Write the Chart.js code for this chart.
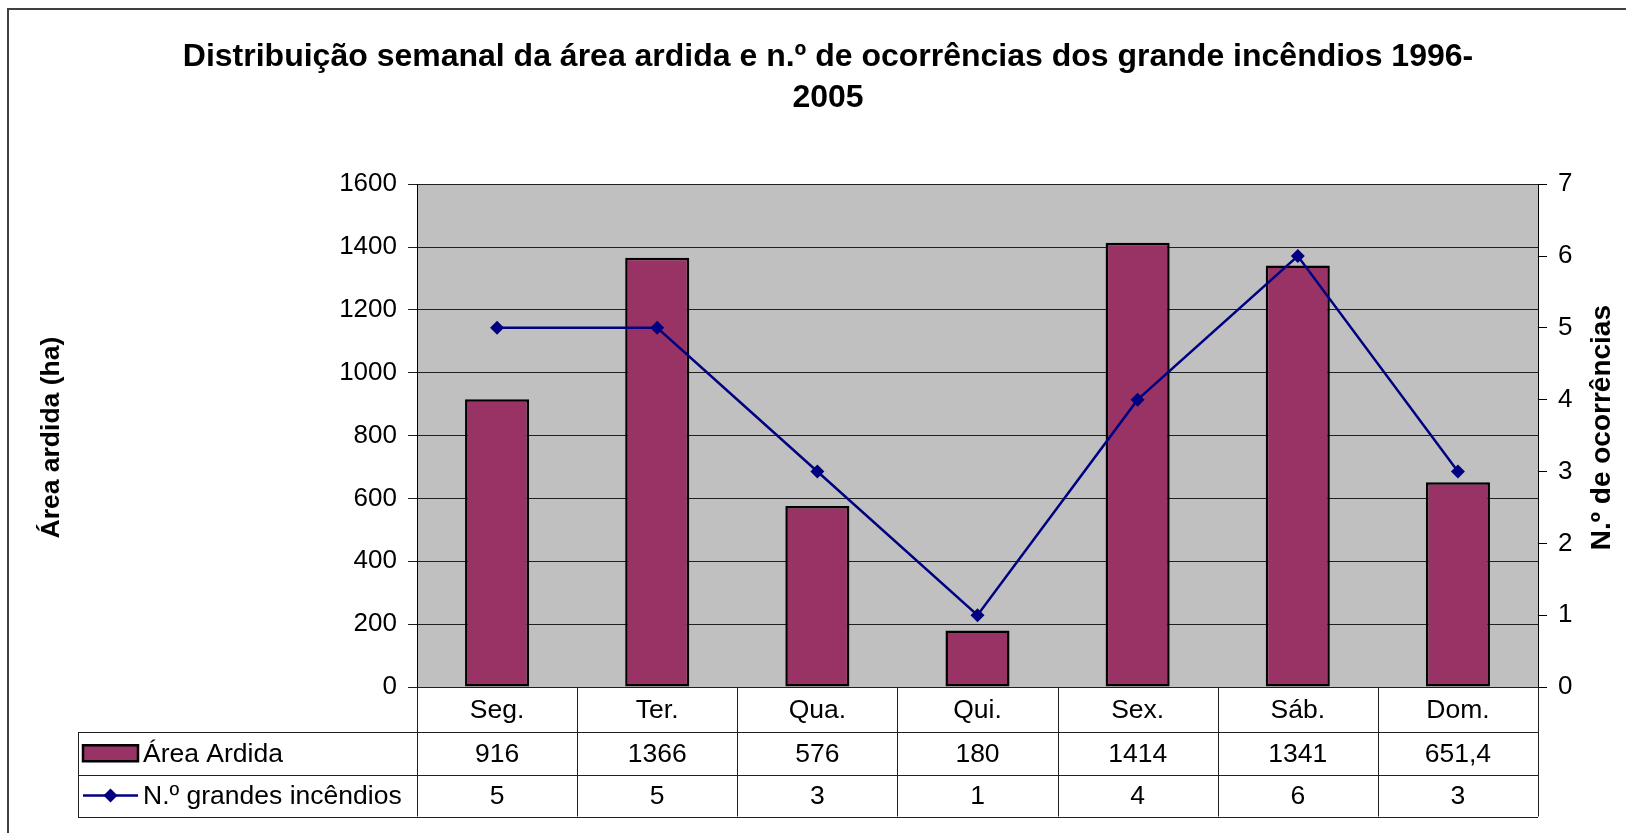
<!DOCTYPE html>
<html>
<head>
<meta charset="utf-8">
<script src="https://cdn.jsdelivr.net/npm/chart.js@4.4.1/dist/chart.umd.min.js"></script>
<style>
    html, body { margin: 0; padding: 0; background: #fff; }
    #wrap { width: 1626px; height: 833px; }
</style>
</head>
<body>
<div id="wrap"><canvas id="grafico" width="1626" height="833"></canvas></div>
<script>
// dias da semana e séries
const dias = ["Seg.", "Ter.", "Qua.", "Qui.", "Sex.", "Sáb.", "Dom."];
const areaArdida = [916, 1366, 576, 180, 1414, 1341, 651.4];
const nIncendios = [5, 5, 3, 1, 4, 6, 3];

const nomeArea = "Área Ardida";
const nomeIncendios = "N.º grandes incêndios";
const tituloY = "Área ardida (ha)";
const tituloY1 = "N.º de ocorrências";

const FONTE = "Arial, 'Liberation Sans', sans-serif";
const COR_BARRA = "#993366";
const COR_LINHA = "#000080";

const fmt = v => String(v).replace(".", ",");

/* ---------- fundo cinzento da área do gráfico + moldura ---------- */
const fundoPlugin = {
    id: "fundo",
    beforeDraw(chart) {
        const { ctx, chartArea: a } = chart;
        ctx.save();
        ctx.fillStyle = "#c0c0c0";
        ctx.fillRect(a.left, a.top, a.right - a.left, a.bottom - a.top);
        // moldura exterior
        ctx.strokeStyle = "#404040";
        ctx.lineWidth = 2;
        ctx.strokeRect(8, 9, 1700, 900);
        ctx.restore();
    },
};

/* ---------- títulos dos eixos (ambos lidos de baixo para cima) ---------- */
const titulosEixos = {
    id: "titulosEixos",
    afterDraw(chart) {
        const { ctx, chartArea: a } = chart;
        const cy = (a.top + a.bottom) / 2;
        ctx.save();
        ctx.fillStyle = "#000";
        ctx.textAlign = "center";
        ctx.textBaseline = "middle";
        [[52, cy + 2, tituloY, 26.5], [1602, cy - 8, tituloY1, 28]].forEach(([x, y, t, tam]) => {
            ctx.save();
            ctx.font = "bold " + tam + "px " + FONTE;
            ctx.translate(x, y);
            ctx.rotate(-Math.PI / 2);
            ctx.fillText(t, 0, 0);
            ctx.restore();
        });
        ctx.restore();
    },
};

/* ---------- tabela de dados por baixo do gráfico ---------- */
const tabelaPlugin = {
    id: "tabela",
    afterDraw(chart) {
        const { ctx, chartArea: a, scales } = chart;
        const x = scales.x;
        const larg = (a.right - a.left) / dias.length;
        const legEsq = 78;
        const y0 = a.bottom;
        const y1 = y0 + 45;
        const y2 = y1 + 42.5;
        const y3 = y2 + 42;

        ctx.save();
        ctx.strokeStyle = "#202020";
        ctx.lineWidth = 1;

        // linhas horizontais
        [y1, y2, y3].forEach(y => {
            ctx.beginPath();
            ctx.moveTo(legEsq, Math.round(y) + 0.5);
            ctx.lineTo(a.right, Math.round(y) + 0.5);
            ctx.stroke();
        });
        // linhas verticais das colunas
        for (let i = 0; i <= dias.length; i++) {
            const xx = Math.round(a.left + i * larg) + 0.5;
            ctx.beginPath();
            ctx.moveTo(xx, y0);
            ctx.lineTo(xx, y3);
            ctx.stroke();
        }
        ctx.beginPath();
        ctx.moveTo(legEsq + 0.5, Math.round(y1));
        ctx.lineTo(legEsq + 0.5, Math.round(y3) + 1);
        ctx.stroke();

        // textos
        ctx.fillStyle = "#000";
        ctx.font = "26.5px " + FONTE;
        ctx.textAlign = "center";
        ctx.textBaseline = "middle";
        dias.forEach((d, i) => {
            const cx = x.getPixelForValue(i);
            ctx.fillText(d, cx, (y0 + y1) / 2 + 1);
            ctx.fillText(fmt(areaArdida[i]), cx, (y1 + y2) / 2 + 1);
            ctx.fillText(fmt(nIncendios[i]), cx, (y2 + y3) / 2 + 1);
        });

        // legenda: barra
        const kx = 83, kw = 55;
        const r1 = (y1 + y2) / 2;
        ctx.fillStyle = COR_BARRA;
        ctx.fillRect(kx, r1 - 8, kw, 16);
        ctx.strokeStyle = "#000";
        ctx.lineWidth = 2.5;
        ctx.strokeRect(kx, r1 - 8, kw, 16);

        // legenda: linha com losango
        const r2 = (y2 + y3) / 2;
        ctx.strokeStyle = COR_LINHA;
        ctx.lineWidth = 2.5;
        ctx.beginPath();
        ctx.moveTo(kx, r2);
        ctx.lineTo(kx + kw, r2);
        ctx.stroke();
        ctx.fillStyle = COR_LINHA;
        ctx.beginPath();
        const mx = kx + kw / 2, s = 7;
        ctx.moveTo(mx, r2 - s);
        ctx.lineTo(mx + s, r2);
        ctx.lineTo(mx, r2 + s);
        ctx.lineTo(mx - s, r2);
        ctx.closePath();
        ctx.fill();

        ctx.fillStyle = "#000";
        ctx.textAlign = "left";
        ctx.fillText(nomeArea, 143, r1 + 1);
        ctx.fillText(nomeIncendios, 143, r2 + 1);
        ctx.restore();
    },
};

new Chart(document.getElementById("grafico"), {
    data: {
        labels: dias,
        datasets: [
            {
                type: "line",
                label: nomeIncendios,
                data: nIncendios,
                yAxisID: "y1",
                borderColor: COR_LINHA,
                backgroundColor: COR_LINHA,
                borderWidth: 2.5,
                pointStyle: "rectRot",
                pointRadius: 7,
                pointBorderWidth: 0,
                tension: 0,
                order: 0,
            },
            {
                type: "bar",
                label: nomeArea,
                data: areaArdida,
                yAxisID: "y",
                backgroundColor: COR_BARRA,
                borderColor: "#000",
                borderWidth: 2.5,
                borderSkipped: false,
                categoryPercentage: 1,
                barPercentage: 0.4,
                order: 1,
            },
        ],
    },
    options: {
        responsive: false,
        animation: false,
        devicePixelRatio: 1,
        layout: { padding: { left: 30, right: 0, top: 0, bottom: 146 } },
        plugins: {
            legend: { display: false },
            tooltip: { enabled: false },
            title: {
                display: true,
                text: [
                    "Distribuição semanal da área ardida e n.º de ocorrências dos grande incêndios 1996-",
                    "2005",
                ],
                color: "#000",
                font: { family: FONTE, size: 32, weight: "bold", lineHeight: 1.3 },
                padding: { top: 36, bottom: 65 },
            },
        },
        scales: {
            x: { display: false },
            y: {
                position: "left",
                min: 0,
                max: 1600,
                ticks: {
                    stepSize: 200,
                    color: "#000",
                    padding: 11,
                    font: { family: FONTE, size: 26 },
                    callback: v => String(v),
                },
                grid: { color: "#202020", lineWidth: 1, tickLength: 9 },
                border: { display: true, color: "#000", width: 1 },
                afterFit: s => { s.width = 387; },
            },
            y1: {
                position: "right",
                min: 0,
                max: 7,
                ticks: {
                    stepSize: 1,
                    color: "#000",
                    padding: 11,
                    font: { family: FONTE, size: 26 },
                    callback: v => String(v),
                },
                grid: { drawOnChartArea: false, color: "#000", tickLength: 9 },
                border: { display: true, color: "#000", width: 1 },
                afterFit: s => { s.width = 88; },
            },
        },
    },
    plugins: [fundoPlugin, titulosEixos, tabelaPlugin],
});
</script>
</body>
</html>
